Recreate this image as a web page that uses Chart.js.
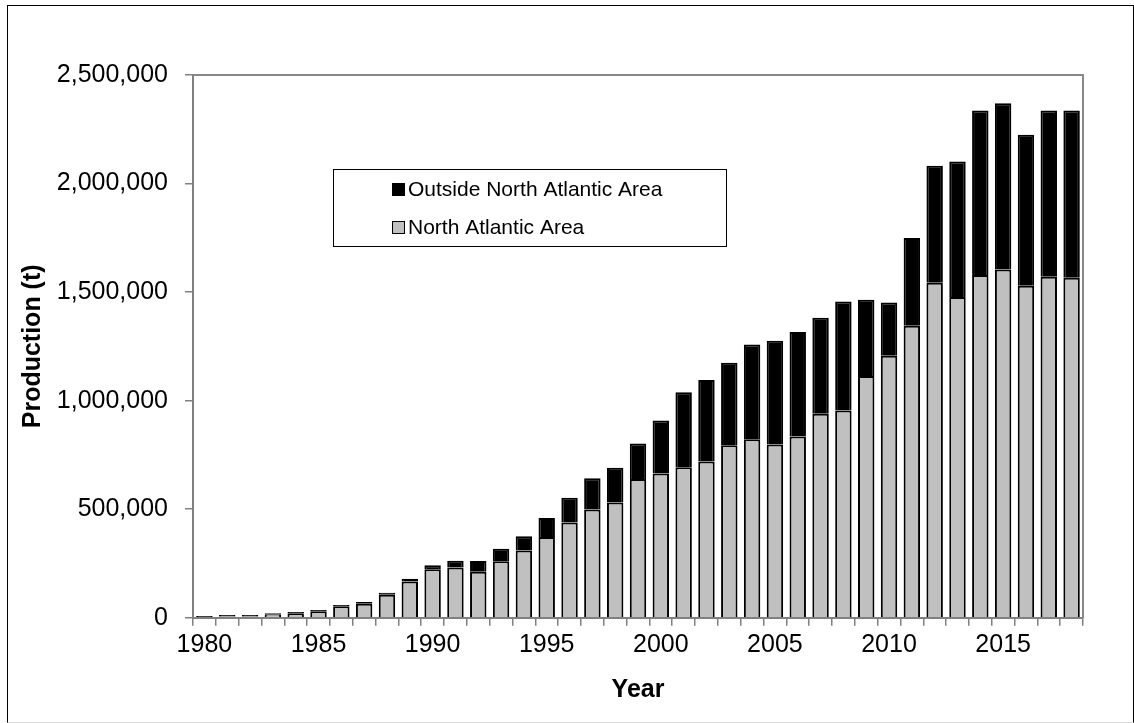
<!DOCTYPE html>
<html>
<head>
<meta charset="utf-8">
<script src="https://cdn.jsdelivr.net/npm/chart.js@4"></script>
<style>
  html, body { margin: 0; padding: 0; background: #fff; }
  #wrap { position: relative; width: 1134px; height: 723px; }
  #frame { position: absolute; left: 7px; top: 5px; right: 0px; bottom: 0px;
           border-left: 1px solid #000; border-top: 1px solid #000;
           border-right: 1px solid #000; border-bottom: 1px solid #ddd; pointer-events: none; }
</style>
</head>
<body>
<div id="wrap">
  <canvas id="myChart" width="1134" height="723"></canvas>
  <div id="frame"></div>
</div>
<script>
// years on the x axis
var years = [1980, 1981, 1982, 1983, 1984, 1985, 1986, 1987, 1988, 1989,
             1990, 1991, 1992, 1993, 1994, 1995, 1996, 1997, 1998, 1999,
             2000, 2001, 2002, 2003, 2004, 2005, 2006, 2007, 2008, 2009,
             2010, 2011, 2012, 2013, 2014, 2015, 2016, 2017, 2018];

// production in tonnes
var northAtlantic = [3000, 6000, 6000, 16000, 20000, 30000, 53000, 64000, 106000, 167000,
                     223000, 231000, 212000, 260000, 310000, 372000, 438000, 498000, 531000, 639000,
                     664000, 693000, 720000, 794000, 822000, 798000, 835000, 939000, 954000, 1113000,
                     1207000, 1345000, 1543000, 1477000, 1579000, 1604000, 1529000, 1571000, 1566000];

var outsideNA = [4500, 6000, 6000, 5000, 6000, 5000, 5000, 8000, 9000, 13000,
                 19000, 31000, 49000, 58000, 65000, 87000, 115000, 144000, 160000, 163000,
                 244000, 345000, 375000, 381000, 436000, 478000, 481000, 443000, 503000, 352000,
                 245000, 404000, 539000, 625000, 758000, 766000, 696000, 766000, 771000];

var seriesNames = ["North Atlantic Area", "Outside North Atlantic Area"];
var seriesColors = ["#c0c0c0", "#000000"];

var yTicks = [0, 500000, 1000000, 1500000, 2000000, 2500000];

var fontFam = "'Liberation Sans', Arial, sans-serif";

// legend box inside the plot, top item = last series
var boxLegend = {
  id: "boxLegend",
  afterDraw: function(chart) {
    var ctx = chart.ctx;
    ctx.save();
    // gray frame on top and right of the plot
    var a = chart.chartArea;
    ctx.strokeStyle = "#888";
    ctx.lineWidth = 2;
    ctx.beginPath();
    ctx.moveTo(a.left, a.top);
    ctx.lineTo(a.right, a.top);
    ctx.lineTo(a.right, a.bottom);
    ctx.stroke();

    ctx.fillStyle = "#fff";
    ctx.fillRect(333, 169, 393, 77);
    ctx.strokeStyle = "#000";
    ctx.lineWidth = 1;
    ctx.strokeRect(333.5, 169.5, 393, 77);
    ctx.font = "21px " + fontFam;
    ctx.textBaseline = "middle";
    var ds = chart.data.datasets;
    var row = 0;
    for (var i = ds.length - 1; i >= 0; i--) {
      var cy = 189 + row * 38;
      ctx.fillStyle = ds[i].backgroundColor;
      ctx.fillRect(392, cy - 6, 13, 13);
      ctx.strokeStyle = "#000";
      ctx.strokeRect(392.5, cy - 5.5, 12, 12);
      ctx.fillStyle = "#000";
      ctx.fillText(ds[i].label, 408, cy + 1);
      row++;
    }
    ctx.restore();
  }
};

new Chart("myChart", {
  type: "bar",
  data: {
    labels: years,
    datasets: [{
      label: seriesNames[0],
      data: northAtlantic,
      backgroundColor: seriesColors[0],
      borderColor: "#000",
      borderWidth: 2
    }, {
      label: seriesNames[1],
      data: outsideNA,
      backgroundColor: seriesColors[1],
      borderColor: "#000",
      borderWidth: 2
    }]
  },
  options: {
    responsive: false,
    animation: false,
    layout: { padding: { left: 0, top: 75, right: 51, bottom: 0 } },
    datasets: { bar: { barPercentage: 0.72, categoryPercentage: 1.0 } },
    plugins: {
      legend: { display: false },
      tooltip: { enabled: false }
    },
    scales: {
      x: {
        stacked: true,
        offset: true,
        grid: { display: true, drawOnChartArea: false, drawTicks: true, tickLength: 8, offset: true, color: "#808080", lineWidth: 1.5 },
        border: { display: true, color: "#808080", width: 2 },
        ticks: {
          autoSkip: false, maxRotation: 0, padding: 4, color: "#000",
          font: { family: fontFam, size: 25 },
          callback: function(v, i) { return years[i] % 5 === 0 ? String(years[i]) : ""; }
        },
        title: { display: true, text: "Year", color: "#000", padding: { top: 0, bottom: 18 },
                 font: { family: fontFam, size: 25, weight: "bold" } },
        afterFit: function(s) { s.height = 723 - 617.7; }
      },
      y: {
        stacked: true,
        min: 0, max: yTicks[yTicks.length - 1],
        afterBuildTicks: function(s) { s.ticks = yTicks.map(function(v) { return { value: v }; }); },
        grid: { display: true, drawOnChartArea: false, drawTicks: true, tickLength: 8, color: "#808080", lineWidth: 1.5 },
        border: { display: true, color: "#808080", width: 2 },
        ticks: {
          padding: 17, color: "#000",
          font: { family: fontFam, size: 25 },
          callback: function(v) { return v.toLocaleString("en-US"); }
        },
        title: { display: true, text: "Production (t)", color: "#000", padding: { top: 18, bottom: 0 },
                 font: { family: fontFam, size: 25, weight: "bold" } },
        afterFit: function(s) { s.width = 193; }
      }
    }
  },
  plugins: [boxLegend]
});
</script>
</body>
</html>
